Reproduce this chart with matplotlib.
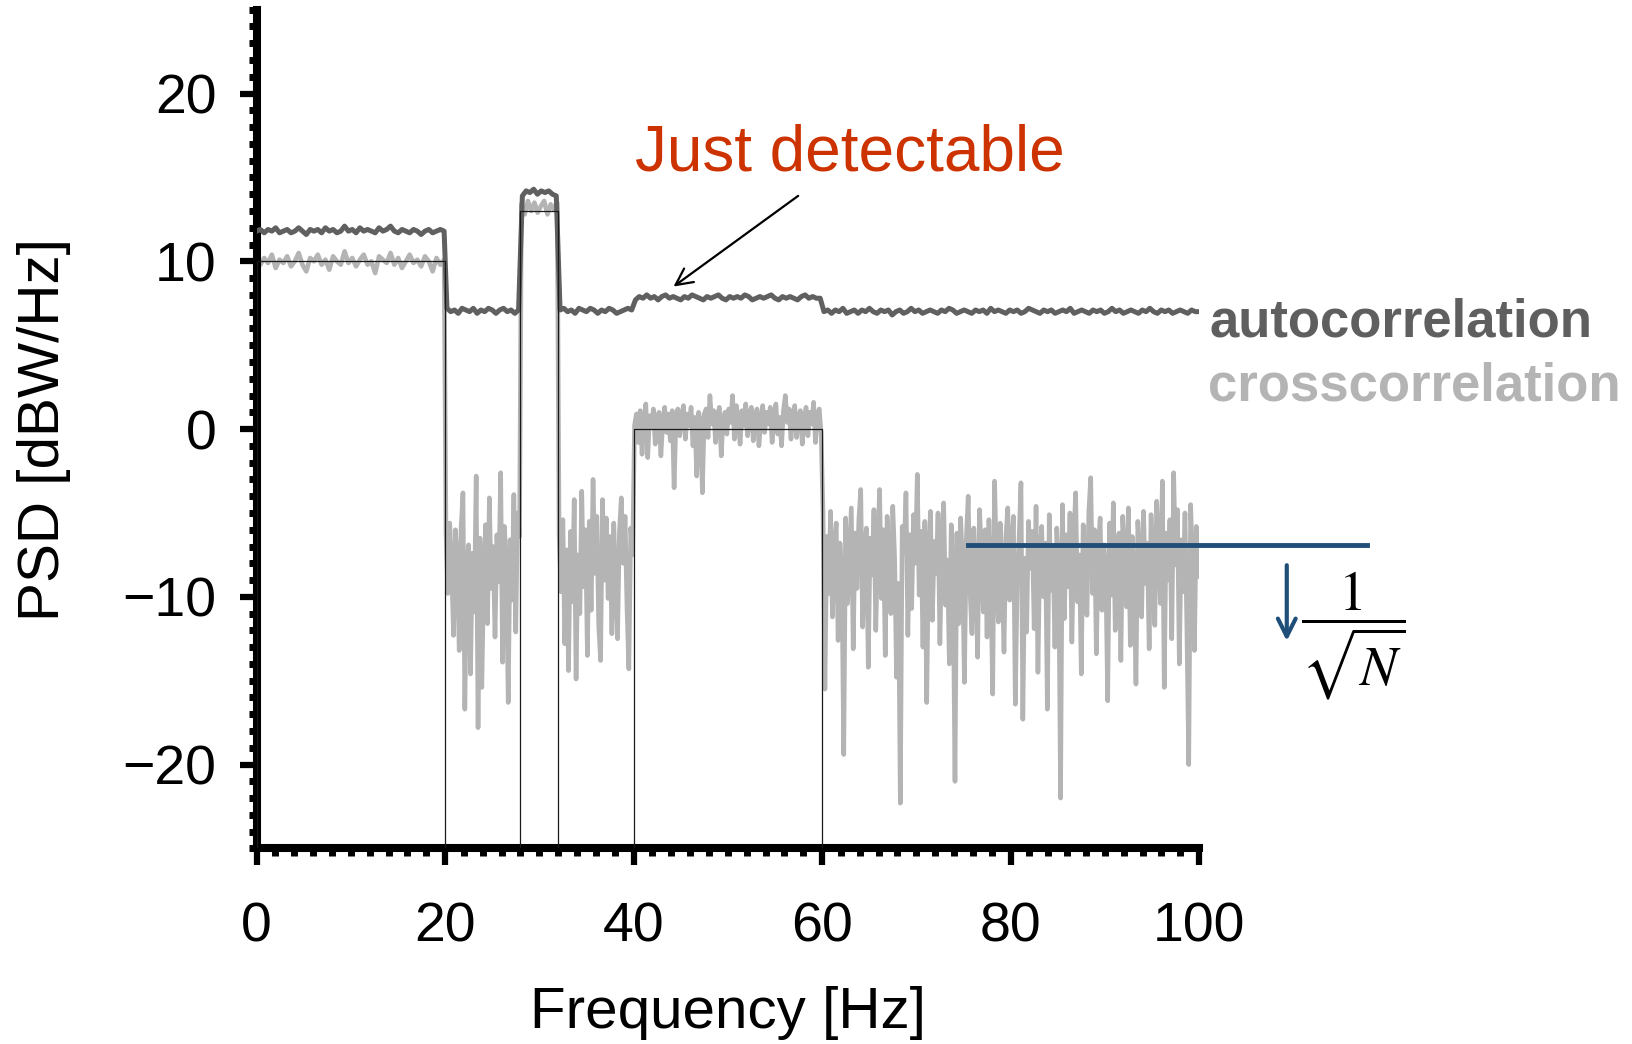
import numpy as np
import matplotlib
matplotlib.use('Agg')
import matplotlib.pyplot as plt
from matplotlib.ticker import MultipleLocator

matplotlib.rcParams['font.family'] = 'Liberation Sans'
matplotlib.rcParams['mathtext.fontset'] = 'stix'

# true PSD bands: [lo, hi] in Hz and level in dB
band_lo = [0, 28, 40]
band_hi = [20, 32, 60]
band_level = [10, 13, 0]

# segment edges (Hz) for the estimated spectra
cross_edges = [(0.0, 19.9), (20.1, 27.9), (28.1, 31.9), (32.1, 39.9), (40.1, 59.9), (60.1, 99.9)]
auto_edges = [(0.0, 19.9), (20.2, 27.8), (28.2, 31.8), (32.2, 39.8), (40.2, 59.8), (60.2, 100.0)]

cross_0_20 = [10.3, 9.8, 10.2, 9.9, 10.4, 9.6, 10.1, 9.9, 10.3, 9.7, 10.0, 10.5, 9.8, 9.4, 10.2, 10.0, 10.4,
              9.8, 10.1, 9.5, 10.3, 10.0, 9.8, 10.6, 9.9, 10.2, 9.7, 10.1, 10.4, 9.8, 10.0, 9.3, 10.3, 10.1,
              9.9, 10.5, 9.8, 10.2, 9.6, 10.0, 10.4, 9.9, 10.1, 9.7, 10.3, 10.0, 9.4, 10.2, 9.8, 10.1]
cross_20_28 = [-6.2, -9.8, -5.6, -8.4, -12.3, -6.0, -7.9, -13.2, -5.9, -3.8, -16.7, -8.1, -6.9, -14.6,
               -7.4, -10.9, -2.8, -17.8, -6.5, -15.4, -8.8, -5.7, -11.6, -4.1, -9.5, -7.0, -12.4, -6.3,
               -9.1, -2.6, -13.9, -5.8, -8.3, -16.3, -6.6, -10.2, -3.9, -12.1, -5.0, -6.4]
cross_28_32 = [13.4, 12.8, 13.6, 13.0, 13.5, 12.9, 13.3, 13.6, 12.8, 13.4, 13.1, 13.5]
cross_32_40 = [-6.3, -9.7, -5.4, -12.8, -7.2, -14.4, -6.1, -10.3, -4.2, -14.9, -7.5, -11.0, -3.7, -9.4,
               -6.0, -13.5, -5.5, -10.8, -3.0, -8.6, -5.2, -11.7, -13.8, -4.2, -9.0, -5.3, -10.1, -6.4,
               -12.2, -5.6, -9.3, -12.5, -6.1, -4.1, -8.0, -5.2, -10.6, -14.3, -5.9, -7.5]
cross_40_60 = [0.2, 0.9, -0.8, 1.1, -1.5, 0.6, 1.5, -1.7, 0.8, 0.1,
               1.2, -0.9, 0.7, 1.0, -1.6, 0.5, 1.3, -0.2, 0.9, -0.7,
               1.1, -3.5, 0.6, 1.2, -0.4, 0.8, 1.4, -0.6, 0.9, 0.2,
               1.3, -1.0, 0.7, -2.8, 1.0, 0.4, -3.8, 0.9, 1.2, -0.5,
               2.0, 0.3, 1.1, -0.8, 0.8, 1.3, -1.6, 0.6, 1.0, -0.3,
               1.2, 0.4, 2.0, -0.6, 1.4, 0.7, -0.9, 1.1, 0.2, 1.5,
               -0.4, 0.9, 1.3, -0.7, 0.8, 1.2, -1.0, 0.5, 1.4, -0.2,
               1.0, 0.3, 1.3, -0.8, 0.9, 1.5, -0.3, 0.7, -1.0, 1.1,
               2.0, 0.4, 1.2, -0.6, 0.9, 1.4, -0.5, 0.8, 1.1, -0.9,
               0.6, 1.3, -0.4, 1.0, 0.3, 1.6, -0.8, 0.9, 1.2, -0.3]
cross_60_100 = [-5.0, -15.5, -6.4, -9.8, -4.9, -11.2, -7.0, -5.6, -12.6, -6.8,
                -8.9, -19.4, -5.3, -10.4, -7.6, -4.7, -13.1, -6.2, -9.5, -5.4,
                -3.6, -11.8, -7.3, -5.9, -14.2, -6.5, -8.7, -4.8, -12.0, -7.1,
                -3.6, -10.1, -6.0, -13.5, -5.2, -8.4, -11.0, -4.6, -7.7, -14.8,
                -9.2, -22.3, -5.8, -7.4, -3.8, -12.3, -6.3, -10.7, -5.1, -8.0,
                -2.7, -9.9, -6.1, -13.0, -5.5, -16.3, -7.5, -4.9, -11.4, -6.7,
                -8.6, -5.0, -12.8, -6.9, -4.4, -10.5, -7.8, -14.0, -5.7, -9.0,
                -21.0, -6.2, -11.6, -5.3, -8.1, -15.1, -6.6, -4.0, -9.7, -12.2,
                -5.9, -8.8, -13.6, -4.8, -7.2, -10.9, -6.0, -12.4, -5.4, -9.3,
                -15.8, -3.1, -7.9, -11.5, -5.6, -8.5, -13.3, -6.4, -4.7, -10.2,
                -7.0, -5.2, -16.4, -9.1, -6.5, -3.2, -17.3, -7.7, -12.1, -5.5,
                -8.3, -6.1, -11.9, -4.6, -14.5, -7.4, -5.8, -10.0, -6.8, -16.7,
                -5.1, -9.6, -7.2, -13.0, -5.9, -8.0, -22.0, -4.5, -11.3, -6.3,
                -9.4, -5.0, -12.7, -6.6, -3.8, -10.3, -7.5, -14.6, -5.7, -8.2,
                -11.1, -4.9, -2.9, -9.8, -6.0, -13.4, -7.1, -5.3, -10.8, -6.9,
                -8.5, -16.2, -5.6, -9.9, -4.4, -12.0, -7.3, -6.2, -13.8, -5.2,
                -7.8, -10.6, -4.7, -12.9, -6.4, -8.9, -15.2, -5.5, -7.6, -11.2,
                -4.9, -9.2, -6.8, -13.1, -5.1, -8.3, -11.7, -4.3, -7.0, -10.4,
                -3.1, -15.4, -6.2, -9.0, -5.4, -12.5, -2.6, -8.1, -4.8, -14.0,
                -6.6, -9.7, -5.0, -11.8, -20.0, -4.5, -7.9, -13.2, -5.8, -8.8]

auto_0_20 = [11.8, 11.9, 11.7, 11.9, 11.8, 12.0, 11.7, 11.8, 11.9, 11.7, 11.8, 12.0, 11.8, 11.6, 11.9,
             11.8, 11.9, 11.7, 12.0, 11.8, 11.9, 11.7, 11.8, 12.1, 11.8, 11.9, 11.7, 12.0, 11.8, 11.9,
             11.8, 11.7, 12.0, 11.8, 11.9, 12.1, 11.8, 11.7, 11.9, 11.8, 11.7, 11.9, 11.8, 11.6, 11.8,
             11.9, 11.7, 11.8, 11.9, 11.8]
auto_20_28 = [7.2, 7.0, 7.1, 6.9, 7.2, 7.1, 7.0, 7.2, 6.9, 7.1, 7.0, 7.2, 7.1, 6.9, 7.1, 7.2, 7.0, 7.1, 6.9, 7.1]
auto_28_32 = [13.9, 14.2, 14.1, 14.3, 14.0, 14.2, 14.1, 14.2, 14.0, 13.9]
auto_32_40 = [7.1, 7.2, 7.0, 7.1, 6.9, 7.2, 7.1, 7.0, 7.2, 7.1, 6.9, 7.1, 7.0, 7.2, 7.1, 6.9, 7.0, 7.1, 7.2, 7.1]
auto_40_60 = [7.7, 7.9, 7.8, 8.0, 7.8, 7.9, 7.7, 7.9, 8.0, 7.8, 7.9, 7.8, 7.7, 7.9, 7.8, 8.0, 7.9,
              7.8, 7.7, 7.9, 7.8, 7.9, 8.0, 7.8, 7.7, 7.9, 7.8, 7.9, 7.8, 8.0, 7.9, 7.7, 7.8, 7.9,
              7.8, 7.9, 8.0, 7.8, 7.7, 7.9, 7.8, 7.9, 7.8, 7.7, 7.9, 8.0, 7.8, 7.9, 7.8, 7.8]
auto_60_100 = [7.0, 7.1, 6.9, 7.1, 7.0, 7.2, 6.9, 7.0, 7.1, 6.9,
               7.1, 7.0, 7.2, 7.0, 6.9, 7.1, 7.0, 7.1, 6.8, 7.0,
               7.1, 6.9, 7.0, 7.2, 7.0, 7.1, 6.9, 7.0, 7.1, 7.0,
               6.9, 7.1, 7.0, 7.2, 7.1, 6.9, 7.0, 7.1, 7.0, 6.9,
               7.1, 7.0, 7.1, 6.9, 7.2, 7.0, 7.1, 7.0, 6.9, 7.1,
               7.0, 7.1, 6.9, 7.0, 7.2, 7.1, 7.0, 6.9, 7.1, 7.0,
               7.1, 6.9, 7.0, 7.1, 7.0, 7.2, 6.9, 7.0, 7.1, 7.0,
               6.9, 7.1, 7.0, 7.1, 6.9, 7.0, 7.2, 7.0, 7.1, 6.9,
               7.0, 7.1, 7.0, 6.9, 7.1, 7.0, 7.2, 7.0, 6.9, 7.1,
               7.0, 7.1, 6.9, 7.0, 7.1, 7.0, 6.9, 7.1, 7.0, 7.0]

cross_segments = [cross_0_20, cross_20_28, cross_28_32, cross_32_40, cross_40_60, cross_60_100]
auto_segments = [auto_0_20, auto_20_28, auto_28_32, auto_32_40, auto_40_60, auto_60_100]

noise_floor_db = -6.9
floor_span = (75.5, 117.8)

DARK = '#606060'
LIGHT = '#b4b4b4'
BLUE = '#1f4e79'
RED = '#cc3300'


def build_trace(edges, segments):
    """Join the per-band segments into one frequency / PSD trace."""
    f_all, p_all = [], []
    for (lo, hi), vals in zip(edges, segments):
        f_all.append(np.linspace(lo, hi, len(vals)))
        p_all.append(np.asarray(vals, dtype=float))
    return np.concatenate(f_all), np.concatenate(p_all)


def main():
    fig = plt.figure(figsize=(16.33, 10.44), dpi=100)
    ax = fig.add_axes([0.1571, 0.1873, 0.5772, 0.8034])
    ymin, ymax = -25, 25

    f_cross, p_cross = build_trace(cross_edges, cross_segments)
    f_auto, p_auto = build_trace(auto_edges, auto_segments)

    ax.plot(f_cross, p_cross, color=LIGHT, lw=3.3, zorder=2, solid_joinstyle='round')
    ax.plot(f_auto, p_auto, color=DARK, lw=3.6, zorder=3, solid_joinstyle='round')

    # ideal spectrum, thin black boxes
    for lo, hi, lvl in zip(band_lo, band_hi, band_level):
        ax.plot([lo, lo, hi, hi], [ymin, lvl, lvl, ymin], color='#1a1a1a', lw=0.9, zorder=4)

    ax.set_xlim(0, 100)
    ax.set_ylim(ymin, ymax)

    for side in ['top', 'right']:
        ax.spines[side].set_visible(False)
    for side in ['left', 'bottom']:
        ax.spines[side].set_linewidth(5.8)

    ax.xaxis.set_major_locator(MultipleLocator(20))
    ax.xaxis.set_minor_locator(MultipleLocator(2))
    ax.yaxis.set_major_locator(MultipleLocator(10))
    ax.yaxis.set_minor_locator(MultipleLocator(1))
    ax.tick_params(which='major', direction='out', length=12, width=4.5, labelsize=40)
    ax.tick_params(which='minor', direction='out', length=5.5, width=5)
    ax.tick_params(axis='x', which='major', pad=26)
    ax.tick_params(axis='y', which='major', pad=17)

    ax.set_xlabel('Frequency [Hz]', fontsize=42)
    ax.set_ylabel('PSD [dBW/Hz]', fontsize=42)
    ax.xaxis.set_label_coords(0.5, -0.164)
    ax.yaxis.set_label_coords(-0.197, 0.5)

    # annotations
    ax.text(62.9, 15.4, 'Just detectable', color=RED, fontsize=46, ha='center', va='baseline')
    ax.annotate('', xy=(44.0, 8.4), xytext=(57.7, 14.0),
                arrowprops=dict(arrowstyle='->', color='black', lw=1.6, mutation_scale=30))

    ax.text(101.1, 5.5, 'autocorrelation', color='#5f5f5f', fontsize=38, fontweight='bold',
            va='baseline', ha='left')
    ax.text(100.95, 1.73, 'crosscorrelation', color=LIGHT, fontsize=38, fontweight='bold',
            va='baseline', ha='left')

    ax.plot(floor_span, [noise_floor_db, noise_floor_db], color=BLUE, lw=3.5, clip_on=False, zorder=5)
    ax.annotate('', xy=(109.3, -12.8), xytext=(109.3, -7.95), annotation_clip=False,
                arrowprops=dict(arrowstyle='->', color=BLUE, lw=3, mutation_scale=32))
    ax.text(116.3, -12.3, r'$\dfrac{1}{\sqrt{N}}$', fontsize=40, ha='center', va='center')

    fig.savefig('out.png', dpi=100)
    plt.close(fig)


if __name__ == "__main__":
    main()
